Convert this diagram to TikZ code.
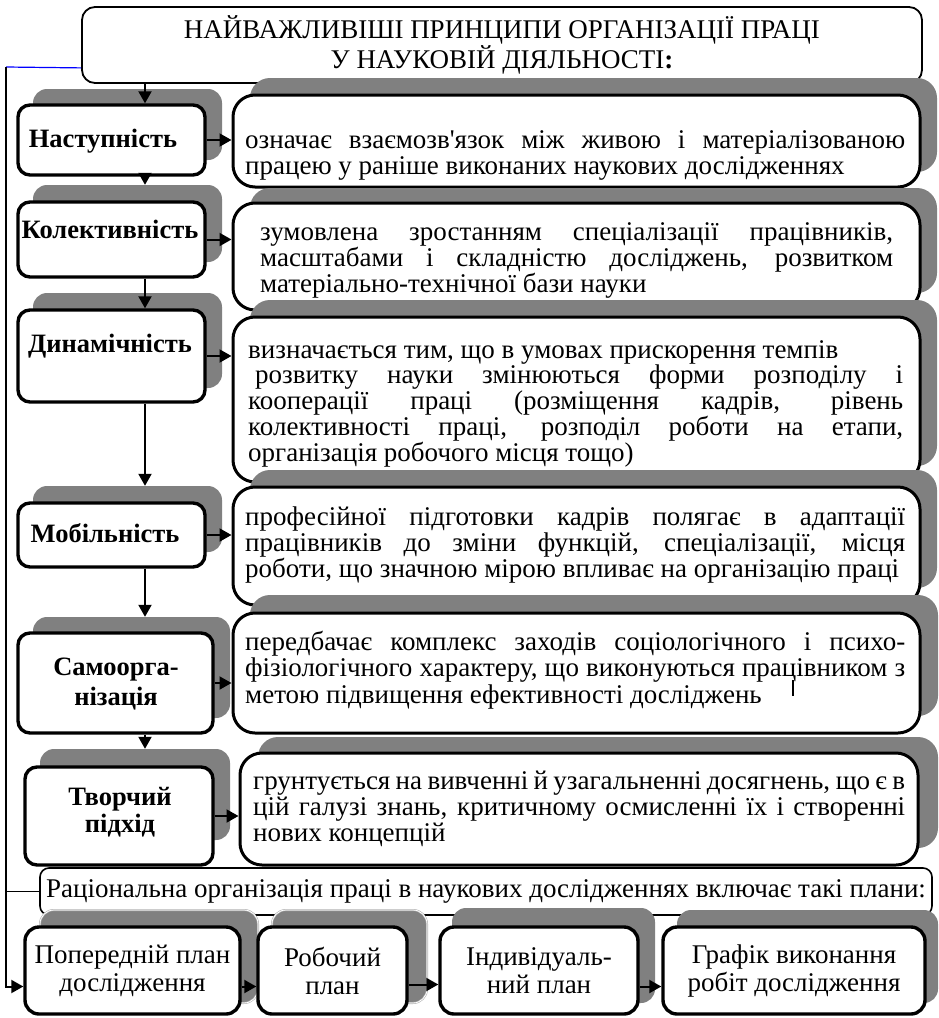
\documentclass[tikz,border=0pt]{standalone}
\usepackage{fontspec}
\setmainfont{Liberation Serif}
\usetikzlibrary{arrows.meta,calc,positioning}
\definecolor{shadegray}{RGB}{128,128,128}
\newcommand{\placebox}[7]{
	\node[#1, minimum width={#5-#3}, minimum height={#6-#4}] (#2)
		at ({(#3+#5)/2},{(#4+#6)/2}) {#7};
	}
\tikzset{
	backbox/.style={fill=shadegray, rounded corners=14pt, inner sep=0pt},
	descback/.style={backbox, rounded corners=20pt},
	backframe/.style={backbox, draw=gray!60, double=white, double distance=0.8pt, line width=0.6pt},
	namebox/.style={draw, fill=white, line width=3.4pt, rounded corners=12pt, inner sep=0pt},
	descbox/.style={draw, fill=white, line width=3pt, rounded corners=22pt, inner sep=0pt},
	headbox/.style={draw, fill=white, line width=1.8pt, rounded corners=13pt, align=center, inner sep=0pt, font=\fontsize{27}{27}\selectfont},
	ratbox/.style={draw, fill=white, line width=1.6pt, rounded corners=9pt, inner sep=0pt, font=\fontsize{27}{27}\selectfont},
	planbox/.style={draw, fill=white, line width=3.4pt, rounded corners=14pt, align=center, inner sep=0pt, font=\fontsize{27}{28}\selectfont},
	nametext/.style={anchor=base, align=center, text width=200pt, inner sep=0pt, font=\bfseries\fontsize{26.5}{30}\selectfont},
	desctext/.style={anchor=base west, align=justify, inner sep=0pt, font=\fontsize{27}{26}\selectfont},
	arr/.style={line width=2pt, -{Triangle[length=12pt,width=13pt]}}
}

\begin{document}
\begin{tikzpicture}[x=1pt, y=-1pt]

	\useasboundingbox (0,0) rectangle (938,1018);

	% heading
	\placebox{headbox}{title}{82}{7}{922}{83}{НАЙВАЖЛИВІШІ ПРИНЦИПИ ОРГАНІЗАЦІЇ ПРАЦІ\\У НАУКОВІЙ ДІЯЛЬНОСТІ\textbf{:}}

	% row 1
	\placebox{backbox}{s1}{33}{89}{222}{160}{}
	\placebox{namebox}{n1}{18}{105}{205}{175}{}
	\node[nametext] (n1t) at (103,147) {Наступність};
	\placebox{descback}{t1}{250}{78}{937}{172}{}
	\placebox{descbox}{d1}{233}{95}{920}{187}{}
	\node[desctext, text width=660pt] (d1t) at (245,148) {означає взаємозв\textquotesingle язок між живою і матеріалізованою\linebreak працею у раніше виконаних наукових дослідженнях};

	% row 2
	\placebox{backbox}{s2}{33}{185}{222}{262}{}
	\placebox{namebox}{n2}{18}{202}{205}{277}{}
	\node[nametext] (n2t) at (110,238) {Колективність};
	\placebox{descback}{t2}{250}{188}{937}{293}{}
	\placebox{descbox}{d2}{233}{203}{920}{310}{}
	\node[desctext, text width=633pt, font=\fontsize{27}{25}\selectfont] (d2t) at (260,240) {зумовлена зростанням спеціалізації працівників,\linebreak масштабами і складністю досліджень, розвитком\linebreak матеріально-технічної бази науки};

	% row 3
	\placebox{backbox}{s3}{33}{293}{222}{388}{}
	\placebox{namebox}{n3}{18}{310}{205}{402}{}
	\node[nametext] (n3t) at (110,352) {Динамічність};
	\placebox{descback}{t3}{250}{300}{937}{466}{}
	\placebox{descbox}{d3}{233}{317}{920}{482}{}
	\node[desctext, text width=655pt, font=\fontsize{27}{24.5}\selectfont] (d3t) at (248,358) {визначається тим, що в умовах прискорення темпів\\\hspace*{7pt}розвитку науки змінюються форми розподілу і\linebreak кооперації праці (розміщення кадрів, рівень\linebreak колективності праці, розподіл роботи на етапи,\linebreak організація робочого місця тощо)};

	% row 4
	\placebox{backbox}{s4}{33}{486}{222}{552}{}
	\placebox{namebox}{n4}{18}{503}{205}{567}{}
	\node[nametext] (n4t) at (105,542) {Мобільність};
	\placebox{descback}{t4}{250}{470}{937}{588}{}
	\placebox{descbox}{d4}{233}{487}{920}{605}{}
	\node[desctext, text width=660pt] (d4t) at (245,525) {професійної підготовки кадрів полягає в адаптації\linebreak працівників до зміни функцій, спеціалізації, місця\linebreak роботи, що значною мірою впливає на організацію праці};

	% row 5
	\placebox{backbox}{s5}{33}{617}{230}{718}{}
	\placebox{namebox}{n5}{18}{633}{213}{733}{}
	\node[nametext] (n5t) at (116,675) {Самоорга-\\нізація};
	\placebox{descback}{t5}{250}{595}{938}{716}{}
	\placebox{descbox}{d5}{233}{613}{920}{733}{}
	\node[desctext, text width=660pt, font=\fontsize{27}{26.5}\selectfont] (d5t) at (245,650) {передбачає комплекс заходів соціологічного і психо-\linebreak фізіологічного характеру, що виконуються працівником з\linebreak метою підвищення ефективності досліджень};
	\draw[line width=1.2pt] (793,680) -- (793,696);

	% row 6
	\placebox{backbox}{s6}{40}{749}{230}{840}{}
	\placebox{namebox}{n6}{25}{767}{213}{865}{}
	\node[nametext, font=\bfseries\fontsize{26.5}{27}\selectfont] (n6t) at (120,805) {Творчий\\підхід};
	\placebox{descback}{t6}{258}{737}{938}{848}{}
	\placebox{descbox}{d6}{240}{753}{918}{865}{}
	\node[desctext, text width=652pt] (d6t) at (253,789) {грунтується на вивченні й узагальненні досягнень, що є в\linebreak цій галузі знань, критичному осмисленні їх і створенні\linebreak нових концепцій};

	% plans
	\placebox{ratbox}{rat}{40}{868}{932}{915}{Раціональна організація праці в наукових дослідженнях включає такі плани:}

	\placebox{backframe}{sA}{40}{910}{258}{1003}{}
	\placebox{planbox}{pA}{25}{927}{240}{1014}{Попередній план\\дослідження}
	\placebox{backframe}{sB}{272}{910}{427}{1003}{}
	\placebox{planbox}{pB}{258}{927}{407}{1014}{Робочий\\план}
	\placebox{backbox}{sC}{452}{908}{655}{1003}{}
	\placebox{planbox}{pC}{440}{927}{638}{1014}{Індивідуаль-\\ний план}
	\placebox{backbox}{sD}{677}{910}{938}{1003}{}
	\placebox{planbox}{pD}{663}{927}{925}{1014}{Графік виконання\\робіт дослідження}

	% connectors
	\coordinate (ax) at (145,0);
	\coordinate (lc) at (6,67);
	\draw[arr] (title.south -| ax) -- (n1.north -| ax);
	\draw[arr] (n1.south -| ax) -- (s2.north -| ax);
	\draw[arr] (n2.south -| ax) -- (n3.north -| ax);
	\draw[arr] (n3.south -| ax) -- (s4.north -| ax);
	\draw[arr] (n4.south -| ax) -- (s5.north -| ax);
	\draw[arr] (n5.south -| ax) -- (s6.north -| ax);
	\foreach \i in {1,...,6}
		\draw[arr] (n\i.east) -- (n\i.east -| d\i.west);

	\draw[blue, line width=1.2pt] (lc) -- ($(title.south west)+(0,-16)$);
	\draw[line width=1.2pt] (lc) |- (rat.west);
	\draw[arr] (lc) |- ($(pA.west)+(0,16)$);
	\draw[arr] ($(pA.east)+(0,16)$) -- ($(pB.west)+(0,16)$);
	\draw[arr] ($(pB.east)+(0,14)$) -- ($(pC.west)+(0,14)$);
	\draw[arr] ($(pC.east)+(0,16)$) -- ($(pD.west)+(0,16)$);

\end{tikzpicture}
\end{document}
